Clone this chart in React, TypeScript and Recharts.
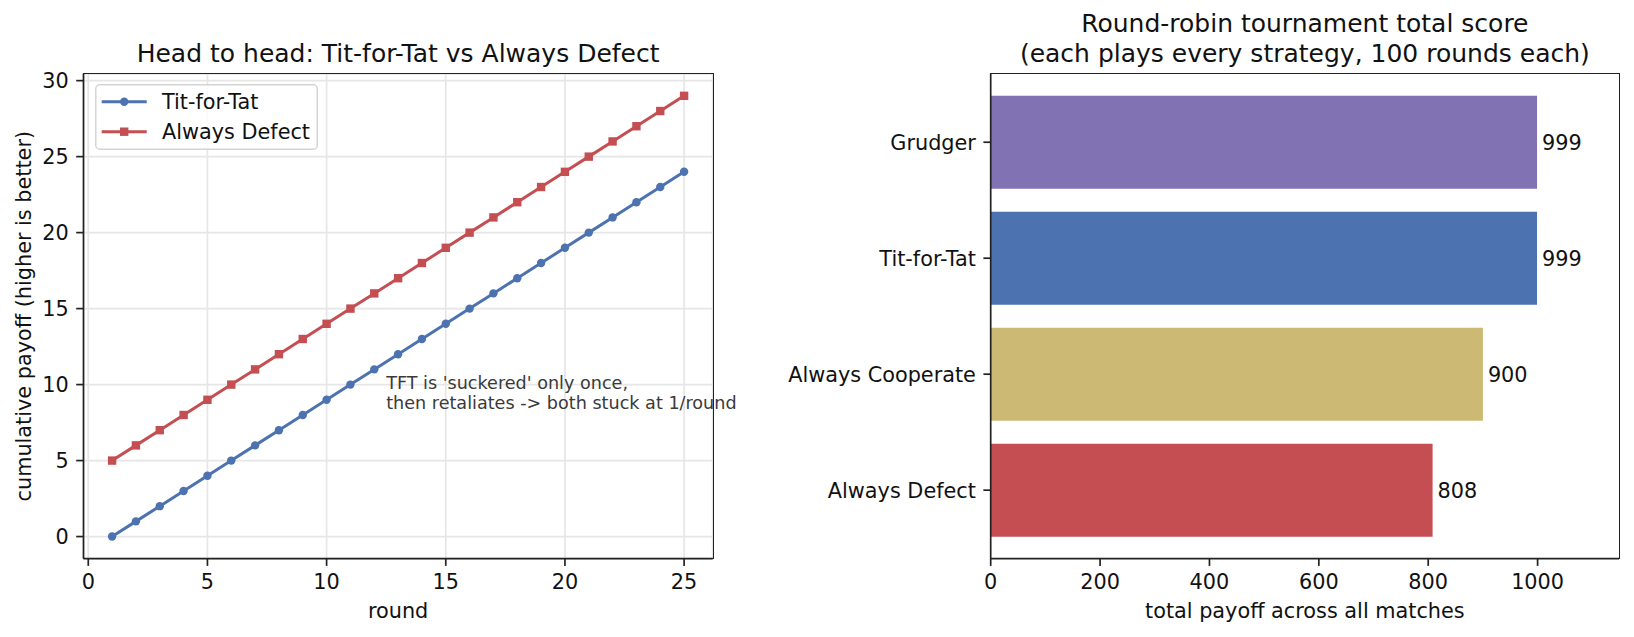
import {
  LineChart, Line, BarChart, Bar, Cell, XAxis, YAxis, CartesianGrid,
  Legend, ReferenceDot, LabelList,
} from "recharts";

// head to head, cumulative payoff per round
const ROUNDS = [1, 2, 3, 4, 5, 6, 7, 8, 9, 10, 11, 12, 13, 14, 15, 16, 17, 18, 19, 20, 21, 22, 23, 24, 25];
const TFT_CUM = [0, 1, 2, 3, 4, 5, 6, 7, 8, 9, 10, 11, 12, 13, 14, 15, 16, 17, 18, 19, 20, 21, 22, 23, 24];
const AD_CUM = [5, 6, 7, 8, 9, 10, 11, 12, 13, 14, 15, 16, 17, 18, 19, 20, 21, 22, 23, 24, 25, 26, 27, 28, 29];
const ROUND_TICKS = [0, 5, 10, 15, 20, 25];
const PAYOFF_TICKS = [0, 5, 10, 15, 20, 25, 30];
const NOTE_X = 12.5;
const NOTE_Y = 8;
const NOTE_LINES = ["TFT is 'suckered' only once,", "then retaliates -> both stuck at 1/round"];

// round-robin totals
const STRATEGIES = ["Grudger", "Tit-for-Tat", "Always Cooperate", "Always Defect"];
const TOTAL_SCORES = [999, 999, 900, 808];
const SCORE_TICKS = [0, 200, 400, 600, 800, 1000];

const BLUE = "#4c72b0";
const RED = "#c44e52";
const BAR_COLORS = ["#8172b3", BLUE, "#ccb974", RED];
const INK = "#222";
const FS = 20.8;

const lineData = ROUNDS.map((r, i) => ({ round: r, tft: TFT_CUM[i], ad: AD_CUM[i] }));
const barData = STRATEGIES.map((s, i) => ({ name: s, score: TOTAL_SCORES[i] }));

const SERIES = [
  { key: "tft", name: "Tit-for-Tat", color: BLUE, marker: "circle" },
  { key: "ad", name: "Always Defect", color: RED, marker: "square" },
];

// plot boxes (page px)
const TOP = 73.8;
const BOTTOM = 558.6;
const LEFT_BOX = { x0: 83.5, x1: 712.7 };
const RIGHT_OFF = 740;
const RIGHT_BOX = { x0: 990.7, x1: 1619 };

const axisCommon = {
  tick: { fontSize: FS, fill: "#111" },
  tickLine: { stroke: INK, strokeWidth: 1.7 },
  axisLine: { stroke: INK, strokeWidth: 1.7 },
  tickSize: 7.3,
};

function SquareDot(props: any) {
  const { cx, cy, index } = props;
  return <rect key={index} x={cx - 4.2} y={cy - 4.2} width={8.4} height={8.4} fill={RED} />;
}

// keep plotting order (tft first), not the legend's sorted payload
function renderLegend() {
  return (
    <svg width={223} height={66} style={{ display: "block" }}>
      <rect x={0.75} y={0.75} width={221.5} height={64.5} rx={4} fill="rgba(255,255,255,0.8)" stroke="#d4d4d4" strokeWidth={1.5} />
      {SERIES.map((s, i) => {
        const cy = 17.7 + i * 30;
        return (
          <g key={s.key}>
            <line x1={6.7} x2={51.7} y1={cy} y2={cy} stroke={s.color} strokeWidth={3} />
            {s.marker === "circle" ? (
              <circle cx={29.2} cy={cy} r={4.2} fill={s.color} />
            ) : (
              <rect x={25} y={cy - 4.2} width={8.4} height={8.4} fill={s.color} />
            )}
            <text x={67} y={cy + 7.3} fontSize={FS} fill="#111">{s.name}</text>
          </g>
        );
      })}
    </svg>
  );
}

function renderNote(props: any) {
  const vb = props.viewBox || {};
  const x = vb.x ?? 0;
  const y = vb.y ?? 0;
  return (
    <text x={x} y={y} fontSize={17.6} fill="#3a3a3a">
      <tspan x={x} y={y - 25.5}>{NOTE_LINES[0]}</tspan>
      <tspan x={x} y={y - 5.5}>{NOTE_LINES[1]}</tspan>
    </text>
  );
}

function Frame({ x0, x1 }: { x0: number; x1: number }) {
  return (
    <div
      style={{
        position: "absolute", left: x0 - 0.85, top: TOP - 0.85,
        width: x1 - x0 + 1.7, height: BOTTOM - TOP + 1.7,
        border: `1.7px solid ${INK}`, boxSizing: "border-box", pointerEvents: "none",
      }}
    />
  );
}

export default function App() {
  const leftW = 740;
  const rightW = 1634 - RIGHT_OFF;
  const H = 637;
  const lcx = (LEFT_BOX.x0 + LEFT_BOX.x1) / 2;
  const rcx = (RIGHT_BOX.x0 + RIGHT_BOX.x1) / 2;
  return (
    <div
      style={{
        position: "absolute", left: 0, top: 0, width: 1634, height: 637,
        overflow: "hidden", background: "#fff", fontFamily: "'DejaVu Sans', sans-serif",
      }}
    >
      <div style={{ position: "absolute", left: 0, top: 0 }}>
        <LineChart
          width={leftW}
          height={H}
          data={lineData}
          margin={{ top: TOP, right: leftW - LEFT_BOX.x1, left: LEFT_BOX.x0 - 70, bottom: H - BOTTOM - 40 }}
        >
          <CartesianGrid stroke="#e6e6e6" strokeWidth={1.7} />
          <XAxis
            {...axisCommon}
            dataKey="round"
            type="number"
            domain={[-0.2, 26.2]}
            ticks={ROUND_TICKS}
            interval={0}
            height={40}
            tickMargin={8}
          />
          <YAxis
            {...axisCommon}
            type="number"
            domain={[-1.45, 30.45]}
            ticks={PAYOFF_TICKS}
            interval={0}
            width={70}
            tickMargin={7.5}
          />
          <Line
            dataKey="tft"
            name="Tit-for-Tat"
            stroke={BLUE}
            strokeWidth={3}
            dot={{ r: 4.2, fill: BLUE, stroke: BLUE, strokeWidth: 0 }}
            activeDot={false}
            isAnimationActive={false}
          />
          <Line
            dataKey="ad"
            name="Always Defect"
            stroke={RED}
            strokeWidth={3}
            dot={SquareDot}
            activeDot={false}
            isAnimationActive={false}
          />
          <ReferenceDot x={NOTE_X} y={NOTE_Y} r={0} fill="none" stroke="none" label={renderNote} ifOverflow="visible" />
          <Legend
            layout="horizontal"
            align="center"
            verticalAlign="middle"
            wrapperStyle={{ left: 95, top: 84, width: 223, height: 66 }}
            content={renderLegend}
          />
        </LineChart>
      </div>

      <div style={{ position: "absolute", left: RIGHT_OFF, top: 0 }}>
        <BarChart
          width={rightW}
          height={H}
          data={barData}
          layout="vertical"
          barCategoryGap="10%"
          margin={{ top: TOP, right: RIGHT_OFF + rightW - RIGHT_BOX.x1, left: RIGHT_BOX.x0 - RIGHT_OFF - 230, bottom: H - BOTTOM - 40 }}
        >
          <XAxis
            {...axisCommon}
            type="number"
            domain={[0, 1148.85]}
            ticks={SCORE_TICKS}
            interval={0}
            height={40}
            tickMargin={8}
          />
          <YAxis
            {...axisCommon}
            type="category"
            dataKey="name"
            width={230}
            interval={0}
            tickMargin={7.5}
            padding={{ top: 10.44, bottom: 10.44 }}
          />
          <Bar dataKey="score" isAnimationActive={false}>
            {barData.map((d, i) => (
              <Cell key={d.name} fill={BAR_COLORS[i]} />
            ))}
            <LabelList dataKey="score" position="right" offset={5} fill="#111" fontSize={FS} />
          </Bar>
        </BarChart>
      </div>

      <Frame x0={LEFT_BOX.x0} x1={LEFT_BOX.x1} />
      <Frame x0={RIGHT_BOX.x0} x1={RIGHT_BOX.x1} />

      <svg width={1634} height={637} style={{ position: "absolute", left: 0, top: 0, pointerEvents: "none" }}>
        <text x={lcx} y={61.5} textAnchor="middle" fontSize={25} fill="#111">
          Head to head: Tit-for-Tat vs Always Defect
        </text>
        <text x={rcx} y={31.5} textAnchor="middle" fontSize={25} fill="#111">
          Round-robin tournament total score
        </text>
        <text x={rcx} y={61.5} textAnchor="middle" fontSize={25} fill="#111">
          (each plays every strategy, 100 rounds each)
        </text>
        <text x={lcx} y={618} textAnchor="middle" fontSize={FS} fill="#111">round</text>
        <text x={rcx} y={618} textAnchor="middle" fontSize={FS} fill="#111">total payoff across all matches</text>
        <text
          x={31}
          y={(TOP + BOTTOM) / 2}
          textAnchor="middle"
          fontSize={FS}
          fill="#111"
          transform={`rotate(-90, 31, ${(TOP + BOTTOM) / 2})`}
        >
          cumulative payoff (higher is better)
        </text>
      </svg>
    </div>
  );
}
